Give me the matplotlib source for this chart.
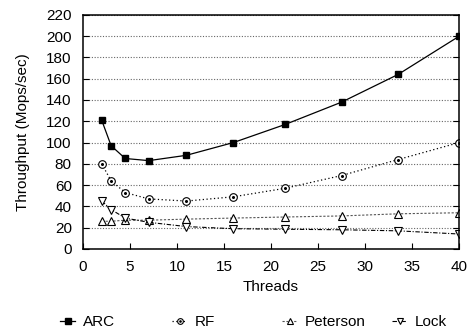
import matplotlib.pyplot as plt

threads = [2, 3, 4.5, 7, 11, 16, 21.5, 27.5, 33.5, 40]
arc = [121, 97, 85, 83, 88, 100, 117, 138, 164, 200]
rf = [80, 64, 53, 47, 45, 49, 57, 69, 84, 100]
peterson = [26, 26, 27, 27, 28, 29, 30, 31, 33, 34]
lock = [45, 37, 29, 25, 21, 19, 18.5, 18, 17, 14]

plt.rcParams['font.family'] = ['Liberation Sans', 'DejaVu Sans']

fig = plt.figure(figsize=(4.71, 3.31), dpi=100)
ax = fig.add_axes([0.176, 0.248, 0.799, 0.707])

ms = 5
l_arc, = ax.plot(threads, arc, color='black', linestyle='-', linewidth=0.9,
                 marker='s', markersize=ms, markerfacecolor='black')
l_rf, = ax.plot(threads, rf, color='black', linestyle=(0, (1, 2)), linewidth=0.9,
                marker='o', markersize=ms + 0.5, markerfacecolor='white', markeredgewidth=0.8)
d_rf, = ax.plot(threads, rf, linestyle='none', marker='o', markersize=1.2, color='black')
l_pet, = ax.plot(threads, peterson, color='#555555', linestyle=(0, (2, 1.5)), linewidth=0.8,
                 marker='^', markersize=ms + 0.5, markerfacecolor='white', markeredgecolor='black',
                 markeredgewidth=0.8)
l_lock, = ax.plot(threads, lock, color='black', linestyle=(0, (4, 1.5, 1, 1.5)), linewidth=0.8,
                  marker='v', markersize=ms + 0.5, markerfacecolor='white', markeredgewidth=0.8)

ax.set_xlim(0, 40)
ax.set_ylim(0, 220)
ax.set_xticks(range(0, 41, 5))
ax.set_yticks(range(0, 221, 20))
ax.yaxis.grid(True, linestyle=(0, (1, 1.5)), color='#666666', linewidth=0.8)
ax.set_axisbelow(True)
ax.tick_params(direction='in', labelsize=11, right=True, length=4, width=0.8)
ax.tick_params(axis='y', pad=8)
ax.tick_params(axis='x', pad=8)
for s in ax.spines.values():
    s.set_linewidth(1.1)

ax.set_xlabel('Threads', fontsize=11, labelpad=4)
ax.set_ylabel('Throughput (Mops/sec)', fontsize=11, labelpad=12)

# legend entries sit at fixed positions below the axes
entries = [((l_arc,), 'ARC', 60), ((l_rf, d_rf), 'RF', 172),
           ((l_pet,), 'Peterson', 282), ((l_lock,), 'Lock', 392)]
for handle, name, xpix in entries:
    leg = fig.legend([handle], [name], loc='center left',
                     bbox_to_anchor=(xpix / 471, 1 - 322 / 331), frameon=False,
                     fontsize=11, handlelength=1.0, handletextpad=0.5,
                     borderpad=0, borderaxespad=0, markerscale=0.75)

fig.savefig('out.png', dpi=100)
